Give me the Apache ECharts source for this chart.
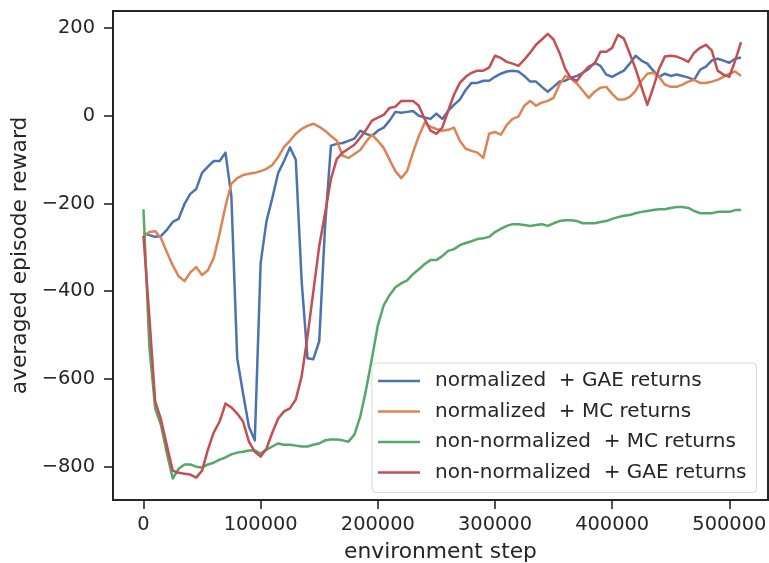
<!DOCTYPE html>
<html>
<head>
<meta charset="utf-8">
<script src="https://cdn.jsdelivr.net/npm/echarts@6/dist/echarts.min.js"></script>
<style>
  html, body { margin: 0; padding: 0; background: #ffffff; }
  #chart { width: 769px; height: 563px; }
</style>
</head>
<body>
<div id="chart"></div>
<script>
// Environment steps at which the averaged episode reward was logged.
const steps = [
  0, 5000, 10000, 15000, 20000, 25000, 30000, 35000, 40000, 45000,
  50000, 55000, 60000, 65000, 70000, 75000, 80000, 85000, 90000, 95000,
  100000, 105000, 110000, 115000, 120000, 125000, 130000, 135000, 140000, 145000,
  150000, 155000, 160000, 165000, 170000, 175000, 180000, 185000, 190000, 195000,
  200000, 205000, 210000, 215000, 220000, 225000, 230000, 235000, 240000, 245000,
  250000, 255000, 260000, 265000, 270000, 275000, 280000, 285000, 290000, 295000,
  300000, 305000, 310000, 315000, 320000, 325000, 330000, 335000, 340000, 345000,
  350000, 355000, 360000, 365000, 370000, 375000, 380000, 385000, 390000, 395000,
  400000, 405000, 410000, 415000, 420000, 425000, 430000, 435000, 440000, 445000,
  450000, 455000, 460000, 465000, 470000, 475000, 480000, 485000, 490000, 495000,
  500000, 505000, 510000
];

// normalized + GAE returns
const normGae = [
  -268, -272, -276, -274, -260, -242, -235, -201, -178, -167,
  -130, -116, -103, -103, -84, -183, -553, -633, -709, -740,
  -336, -240, -187, -130, -103, -72, -100, -377, -553, -555,
  -514, -251, -68, -64, -62, -57, -52, -34, -41, -46,
  -34, -27, -11, 9, 7, 9, 11, 0, -4, -7,
  5, -7, 11, 25, 37, 59, 75, 75, 80, 80,
  89, 96, 101, 103, 101, 91, 78, 78, 66, 55,
  66, 78, 80, 87, 91, 98, 107, 121, 114, 94,
  89, 96, 103, 119, 137, 126, 119, 103, 89, 96,
  91, 94, 91, 87, 82, 105, 112, 126, 130, 126,
  121, 130, 133
];

// normalized + MC returns
const normMc = [
  -274, -265, -263, -279, -311, -341, -366, -377, -357, -345,
  -363, -352, -324, -268, -206, -155, -142, -135, -132, -130,
  -126, -121, -112, -94, -71, -57, -41, -30, -23, -18,
  -25, -34, -46, -57, -91, -96, -87, -78, -59, -43,
  -57, -73, -100, -126, -142, -126, -84, -46, -16, -25,
  -30, -34, -32, -27, -57, -75, -80, -84, -96, -41,
  -37, -43, -21, -7, -2, 23, 34, 23, 30, 34,
  41, 71, 91, 85, 73, 57, 41, 55, 64, 66,
  50, 37, 37, 43, 57, 80, 96, 98, 89, 71,
  66, 66, 71, 78, 82, 75, 75, 78, 82, 89,
  96, 101, 91
];

// non-normalized + MC returns
const rawMc = [
  -213, -526, -667, -706, -770, -827, -805, -795, -795, -800,
  -802, -795, -791, -784, -779, -772, -768, -766, -763, -763,
  -770, -761, -754, -747, -750, -750, -752, -754, -754, -750,
  -747, -740, -738, -738, -740, -743, -727, -686, -624, -553,
  -478, -432, -409, -391, -382, -375, -361, -350, -338, -329,
  -329, -320, -308, -304, -295, -290, -286, -281, -279, -276,
  -265, -258, -251, -247, -247, -249, -251, -249, -247, -251,
  -245, -240, -238, -238, -240, -245, -245, -245, -242, -240,
  -235, -231, -228, -226, -222, -219, -217, -215, -213, -213,
  -210, -208, -208, -210, -217, -222, -222, -222, -219, -219,
  -219, -215, -215
];

// non-normalized + GAE returns
const rawGae = [
  -274, -457, -651, -693, -752, -809, -814, -816, -818, -825,
  -809, -761, -722, -697, -656, -665, -679, -697, -743, -766,
  -777, -759, -722, -690, -674, -667, -647, -594, -503, -400,
  -297, -222, -144, -98, -84, -75, -66, -50, -32, -11,
  -4, 2, 18, 21, 34, 34, 34, 23, -7, -34,
  -41, -27, 11, 48, 75, 89, 98, 103, 103, 110,
  137, 132, 123, 119, 114, 128, 144, 162, 174, 187,
  174, 144, 107, 85, 80, 98, 112, 119, 146, 146,
  155, 185, 176, 142, 107, 66, 25, 64, 107, 135,
  137, 135, 130, 123, 144, 155, 162, 149, 103, 94,
  89, 126, 168
];

const seriesNames = [
  'normalized  + GAE returns',
  'normalized  + MC returns',
  'non-normalized  + MC returns',
  'non-normalized  + GAE returns'
];
const seriesValues = [normGae, normMc, rawMc, rawGae];
const seriesColors = ['#4C72B0', '#DD8452', '#55A868', '#C44E52'];

const xTicks = [0, 100000, 200000, 300000, 400000, 500000];
const yTicks = [-800, -600, -400, -200, 0, 200];

const FONT = 'DejaVu Sans';
const INK = '#262626';

function signed(v) {
  return v < 0 ? '\u2212' + Math.abs(v) : String(v);
}

const chart = echarts.init(document.getElementById('chart'), null, { renderer: 'canvas' });

chart.setOption({
  animation: false,
  backgroundColor: '#ffffff',
  grid: {
    left: 113, top: 11, width: 655, height: 489,
    outerBoundsMode: 'none',
    containLabel: false,
    show: true, borderColor: INK, borderWidth: 2, backgroundColor: 'transparent'
  },
  xAxis: {
    type: 'value',
    position: 'bottom',
    min: -26000, max: 533000,
    name: 'environment step',
    nameLocation: 'middle',
    nameGap: 41,
    nameTextStyle: { fontFamily: FONT, fontSize: 21.8, color: INK },
    axisLine: { show: false, onZero: false },
    splitLine: { show: false },
    axisTick: { show: true, inside: false, length: 9, customValues: xTicks,
      lineStyle: { color: INK, width: 1.6 } },
    axisLabel: { customValues: xTicks, margin: 15, fontFamily: FONT, fontSize: 19.4, color: INK,
      formatter: v => signed(v) }
  },
  yAxis: {
    type: 'value',
    position: 'left',
    min: -876, max: 239,
    name: 'averaged episode reward',
    nameLocation: 'middle',
    nameGap: 81,
    nameTextStyle: { fontFamily: FONT, fontSize: 21.8, color: INK },
    axisLine: { show: false, onZero: false },
    splitLine: { show: false },
    axisTick: { show: true, inside: false, length: 9, customValues: yTicks,
      lineStyle: { color: INK, width: 1.6 } },
    axisLabel: { customValues: yTicks, margin: 18, fontFamily: FONT, fontSize: 19.4, color: INK,
      formatter: v => signed(v) }
  },
  legend: {
    orient: 'vertical',
    left: 372, top: 363,
    padding: [8, 10, 10, 6],
    icon: 'rect',
    itemWidth: 42, itemHeight: 2.5, itemGap: 10.5,
    backgroundColor: 'rgba(255,255,255,0.8)',
    borderColor: 'rgba(204,204,204,0.8)',
    borderWidth: 1, borderRadius: 4,
    textStyle: { fontFamily: FONT, fontSize: 20, color: INK, lineHeight: 20, padding: [0, 0, 0, 10] },
    data: seriesNames
  },
  series: seriesNames.map((name, i) => ({
    name: name,
    type: 'line',
    symbol: 'none',
    showSymbol: false,
    color: seriesColors[i],
    lineStyle: { width: 2.5, color: seriesColors[i], join: 'round' },
    data: steps.map((s, j) => [s, seriesValues[i][j]])
  }))
});
</script>
</body>
</html>
